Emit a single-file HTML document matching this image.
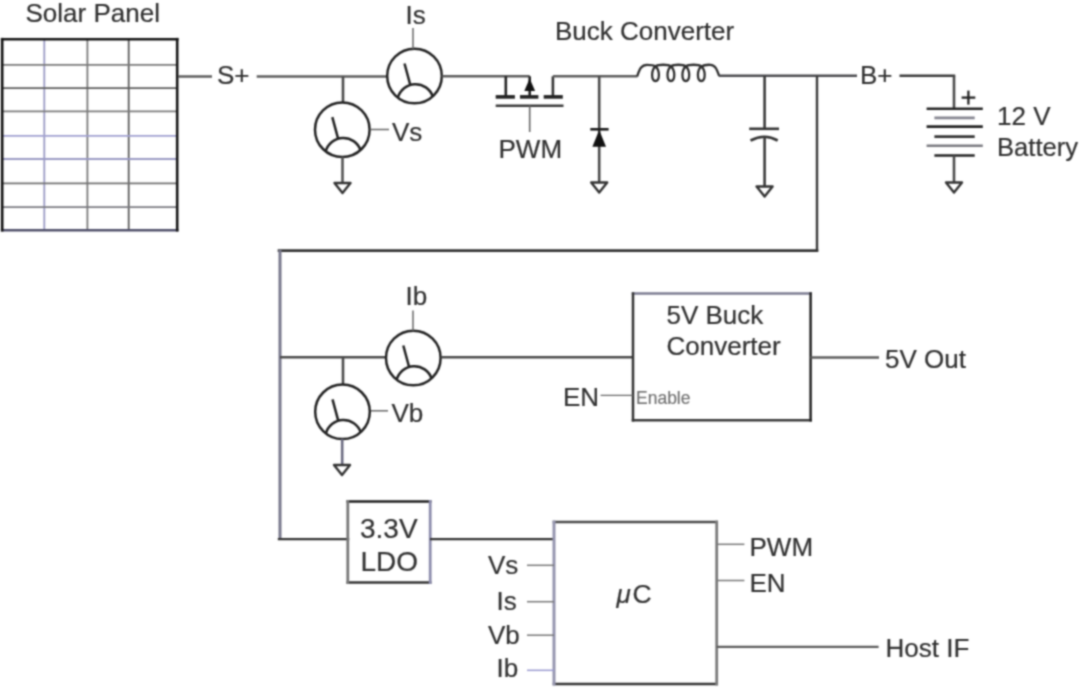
<!DOCTYPE html><html><head><meta charset="utf-8"><title>Solar MPPT charger block diagram</title><style>html,body{margin:0;padding:0;background:#fff;overflow:hidden;}svg{display:block;}text{font-family:"Liberation Sans",sans-serif;}</style></head><body>
<svg width="1080" height="689" viewBox="0 0 1080 689">
<defs><filter id="bl" color-interpolation-filters="sRGB" filterUnits="userSpaceOnUse" x="0" y="0" width="1080" height="689"><feConvolveMatrix order="5" kernelMatrix="0.00048 0.00501 0.01095 0.00501 0.00048 0.00501 0.05222 0.11405 0.05222 0.00501 0.01095 0.11405 0.24912 0.11405 0.01095 0.00501 0.05222 0.11405 0.05222 0.00501 0.00048 0.00501 0.01095 0.00501 0.00048" divisor="1" edgeMode="duplicate"/></filter></defs>
<g filter="url(#bl)"><rect x="0" y="0" width="1080" height="689" fill="#fff"/>
<line x1="44.3" y1="39" x2="44.3" y2="230.3" stroke="#9a9ac4" stroke-width="1.8" stroke-linecap="butt"/>
<line x1="87.4" y1="39" x2="87.4" y2="230.3" stroke="#7a7a7a" stroke-width="1.8" stroke-linecap="butt"/>
<line x1="128.7" y1="39" x2="128.7" y2="230.3" stroke="#5c5c5c" stroke-width="1.8" stroke-linecap="butt"/>
<line x1="2" y1="64.8" x2="177.5" y2="64.8" stroke="#7a7a7a" stroke-width="1.8" stroke-linecap="butt"/>
<line x1="2" y1="88.1" x2="177.5" y2="88.1" stroke="#5c5c5c" stroke-width="1.8" stroke-linecap="butt"/>
<line x1="2" y1="111.4" x2="177.5" y2="111.4" stroke="#7a7a7a" stroke-width="1.8" stroke-linecap="butt"/>
<line x1="2" y1="135.8" x2="177.5" y2="135.8" stroke="#a0a0d0" stroke-width="1.8" stroke-linecap="butt"/>
<line x1="2" y1="159" x2="177.5" y2="159" stroke="#9a9ac4" stroke-width="1.8" stroke-linecap="butt"/>
<line x1="2" y1="183.3" x2="177.5" y2="183.3" stroke="#707070" stroke-width="1.8" stroke-linecap="butt"/>
<line x1="2" y1="207.2" x2="177.5" y2="207.2" stroke="#7a7a80" stroke-width="1.8" stroke-linecap="butt"/>
<line x1="2.2" y1="39.2" x2="177.2" y2="39.2" stroke="#151515" stroke-width="2.6" stroke-linecap="square"/>
<line x1="2.2" y1="230.2" x2="177.2" y2="230.2" stroke="#50506a" stroke-width="2.6" stroke-linecap="square"/>
<line x1="2.2" y1="39.2" x2="2.2" y2="230.2" stroke="#111" stroke-width="2.6" stroke-linecap="square"/>
<line x1="177.2" y1="39.2" x2="177.2" y2="230.2" stroke="#151515" stroke-width="2.6" stroke-linecap="square"/>
<text x="25.5" y="21.7" font-size="26" fill="#303030" stroke="#303030" stroke-width="0.2" >Solar Panel</text>
<text x="555" y="40.1" font-size="26" fill="#303030" stroke="#303030" stroke-width="0.2" >Buck Converter</text>
<line x1="178" y1="76.5" x2="212" y2="76.5" stroke="#5c5c5c" stroke-width="2.6" stroke-linecap="butt"/>
<text x="217" y="84" font-size="26" fill="#303030" stroke="#303030" stroke-width="0.2" >S+</text>
<line x1="256.7" y1="76.5" x2="387" y2="76.5" stroke="#5c5c5c" stroke-width="2.6" stroke-linecap="butt"/>
<line x1="343" y1="76.5" x2="343" y2="102" stroke="#4a4a4a" stroke-width="2.6" stroke-linecap="butt"/>
<circle cx="342.3" cy="129.7" r="27.3" fill="none" stroke="#222" stroke-width="2.5"/>
<path d="M325.60,151.55 A18.3,18.3 0 0 1 360.60,150.23" fill="none" stroke="#222" stroke-width="2.5"/>
<line x1="338.10" y1="138.70" x2="332.30" y2="117.20" stroke="#222" stroke-width="2.5"/>
<line x1="370" y1="129.5" x2="389" y2="129.5" stroke="#666" stroke-width="1.5" stroke-linecap="butt"/>
<text x="392" y="140.8" font-size="26" fill="#303030" stroke="#303030" stroke-width="0.2" >Vs</text>
<line x1="342.5" y1="157" x2="342.5" y2="183" stroke="#555" stroke-width="2.6" stroke-linecap="butt"/>
<path d="M334.5,183 L350.5,183 L342.5,193 Z" fill="none" stroke="#333" stroke-width="2.4" stroke-linejoin="round"/>
<circle cx="414.5" cy="76" r="27.3" fill="none" stroke="#222" stroke-width="2.5"/>
<path d="M397.80,97.85 A18.3,18.3 0 0 1 432.80,96.53" fill="none" stroke="#222" stroke-width="2.5"/>
<line x1="410.30" y1="85.00" x2="404.50" y2="63.50" stroke="#222" stroke-width="2.5"/>
<line x1="413" y1="49" x2="413" y2="28" stroke="#666" stroke-width="1.5" stroke-linecap="butt"/>
<text x="405.5" y="24.3" font-size="26" fill="#303030" stroke="#303030" stroke-width="0.2" >Is</text>
<line x1="442" y1="76.3" x2="529.7" y2="76.3" stroke="#5c5c5c" stroke-width="2.6" stroke-linecap="butt"/>
<line x1="505.8" y1="76.3" x2="505.8" y2="96.7" stroke="#222" stroke-width="2.6" stroke-linecap="butt"/>
<line x1="529.7" y1="76.3" x2="529.7" y2="96.7" stroke="#222" stroke-width="2.6" stroke-linecap="butt"/>
<path d="M529.7,78.5 L524.3,91 L535.1,91 Z" fill="#111"/>
<line x1="552.9" y1="76.3" x2="552.9" y2="96.7" stroke="#333" stroke-width="2.6" stroke-linecap="butt"/>
<line x1="495.7" y1="96.9" x2="514.9" y2="96.9" stroke="#222" stroke-width="3.6" stroke-linecap="butt"/>
<line x1="520" y1="96.9" x2="538.4" y2="96.9" stroke="#222" stroke-width="3.6" stroke-linecap="butt"/>
<line x1="543.7" y1="96.9" x2="562.8" y2="96.9" stroke="#222" stroke-width="3.6" stroke-linecap="butt"/>
<line x1="495.7" y1="105.7" x2="563.5" y2="105.7" stroke="#3a3a3a" stroke-width="2.6" stroke-linecap="butt"/>
<line x1="529.7" y1="105.7" x2="529.7" y2="132" stroke="#666" stroke-width="1.6" stroke-linecap="butt"/>
<text x="498.5" y="158" font-size="26" fill="#303030" stroke="#303030" stroke-width="0.2" >PWM</text>
<line x1="552.9" y1="76.3" x2="637.5" y2="76.3" stroke="#5c5c5c" stroke-width="2.6" stroke-linecap="butt"/>
<line x1="599.2" y1="76.3" x2="599.2" y2="182.5" stroke="#4a4a4a" stroke-width="2.6" stroke-linecap="butt"/>
<line x1="590.3" y1="129.3" x2="608.6" y2="129.3" stroke="#1a1a1a" stroke-width="2.6" stroke-linecap="butt"/>
<path d="M599.2,130 L592.4,146.8 L606,146.8 Z" fill="#111"/>
<path d="M591.2,182.5 L607.2,182.5 L599.2,192.5 Z" fill="none" stroke="#333" stroke-width="2.4" stroke-linejoin="round"/>
<path d="M637.2,76.3 C639.5,69 641.5,64.8 647,64.8 C651,64.8 654,65.3 655.5,66.5 C660.0,70 660.0,81 655.5,81 C651.0,81 651.0,70 655.5,66.5 C658.5,64.2 667.9,64.2 670.9,66.5 C675.4,70 675.4,81 670.9,81 C666.4,81 666.4,70 670.9,66.5 C673.9,64.2 682.8,64.2 685.8,66.5 C690.3,70 690.3,81 685.8,81 C681.3,81 681.3,70 685.8,66.5 C688.8,64.2 698.3,64.2 701.3,66.5 C705.8,70 705.8,81 701.3,81 C696.8,81 696.8,70 701.3,66.5 C704.3,64.5 706,64.6 710.5,64.8 C715.5,65 717,70 719.2,76" fill="none" stroke="#2e2e2e" stroke-width="2.3" stroke-linejoin="round"/>
<line x1="719" y1="75.8" x2="857" y2="75.8" stroke="#4a4a4e" stroke-width="2.4" stroke-linecap="butt"/>
<line x1="764.6" y1="75.8" x2="764.6" y2="128.8" stroke="#3a3a3a" stroke-width="2.6" stroke-linecap="butt"/>
<line x1="749.2" y1="128.8" x2="779" y2="128.8" stroke="#333" stroke-width="2.6" stroke-linecap="butt"/>
<path d="M750.5,140.5 Q764.6,133 777.7,140.5" fill="none" stroke="#333" stroke-width="2.6"/>
<line x1="764.6" y1="137" x2="764.6" y2="186" stroke="#3a3a3a" stroke-width="2.6" stroke-linecap="butt"/>
<path d="M756.6,186.5 L772.6,186.5 L764.6,196.5 Z" fill="none" stroke="#333" stroke-width="2.4" stroke-linejoin="round"/>
<line x1="817" y1="75.8" x2="817" y2="251.5" stroke="#3a3a3a" stroke-width="2.4" stroke-linecap="butt"/>
<text x="860" y="83.7" font-size="26" fill="#303030" stroke="#303030" stroke-width="0.2" >B+</text>
<line x1="900.7" y1="75.7" x2="954" y2="75.7" stroke="#3a3a3a" stroke-width="2.4" stroke-linecap="square"/>
<line x1="954" y1="75.7" x2="954" y2="108.3" stroke="#4a4a4a" stroke-width="2.6" stroke-linecap="butt"/>
<line x1="961.6" y1="97.6" x2="975.3" y2="97.6" stroke="#222" stroke-width="2.3" stroke-linecap="butt"/>
<line x1="968.4" y1="90.6" x2="968.4" y2="104.6" stroke="#222" stroke-width="2.3" stroke-linecap="butt"/>
<line x1="926.6" y1="108.7" x2="982.8" y2="108.7" stroke="#222" stroke-width="2.6" stroke-linecap="butt"/>
<line x1="934.4" y1="117.9" x2="974.7" y2="117.9" stroke="#858590" stroke-width="2.6" stroke-linecap="butt"/>
<line x1="926.6" y1="126.6" x2="982.8" y2="126.6" stroke="#222" stroke-width="2.6" stroke-linecap="butt"/>
<line x1="934.4" y1="136.6" x2="974.7" y2="136.6" stroke="#333" stroke-width="2.6" stroke-linecap="butt"/>
<line x1="926.6" y1="145.8" x2="982.8" y2="145.8" stroke="#7a7a80" stroke-width="2.6" stroke-linecap="butt"/>
<line x1="934.4" y1="155.5" x2="974.7" y2="155.5" stroke="#222" stroke-width="2.6" stroke-linecap="butt"/>
<line x1="954" y1="155.5" x2="954" y2="182" stroke="#4a4a4a" stroke-width="2.6" stroke-linecap="butt"/>
<path d="M946,182.5 L962,182.5 L954,192.5 Z" fill="none" stroke="#333" stroke-width="2.4" stroke-linejoin="round"/>
<text x="997" y="125.1" font-size="26" fill="#303030" stroke="#303030" stroke-width="0.2" >12 V</text>
<text x="997" y="155.5" font-size="25.6" fill="#303030" stroke="#303030" stroke-width="0.2" >Battery</text>
<line x1="817" y1="250.6" x2="279" y2="250.6" stroke="#333" stroke-width="2.6" stroke-linecap="square"/>
<line x1="280" y1="250" x2="280" y2="539" stroke="#78788c" stroke-width="3" stroke-linecap="butt"/>
<line x1="280" y1="357.3" x2="386" y2="357.3" stroke="#4a4a4a" stroke-width="2.6" stroke-linecap="butt"/>
<line x1="343" y1="357.3" x2="343" y2="384.5" stroke="#4a4a4a" stroke-width="2.6" stroke-linecap="butt"/>
<circle cx="342.5" cy="411.8" r="27.3" fill="none" stroke="#222" stroke-width="2.5"/>
<path d="M325.80,433.65 A18.3,18.3 0 0 1 360.80,432.33" fill="none" stroke="#222" stroke-width="2.5"/>
<line x1="338.30" y1="420.80" x2="332.50" y2="399.30" stroke="#222" stroke-width="2.5"/>
<line x1="371" y1="410.8" x2="388" y2="410.8" stroke="#666" stroke-width="1.5" stroke-linecap="butt"/>
<text x="391.5" y="421.7" font-size="26" fill="#303030" stroke="#303030" stroke-width="0.2" >Vb</text>
<line x1="342.2" y1="439" x2="342.2" y2="465" stroke="#6a6a80" stroke-width="2.6" stroke-linecap="butt"/>
<path d="M334,465 L350,465 L342,475 Z" fill="none" stroke="#333" stroke-width="2.4" stroke-linejoin="round"/>
<circle cx="413.3" cy="358" r="27.3" fill="none" stroke="#222" stroke-width="2.5"/>
<path d="M396.60,379.85 A18.3,18.3 0 0 1 431.60,378.53" fill="none" stroke="#222" stroke-width="2.5"/>
<line x1="409.10" y1="367.00" x2="403.30" y2="345.50" stroke="#222" stroke-width="2.5"/>
<line x1="413" y1="331" x2="413" y2="310.4" stroke="#666" stroke-width="1.5" stroke-linecap="butt"/>
<text x="405.5" y="305.2" font-size="26" fill="#303030" stroke="#303030" stroke-width="0.2" >Ib</text>
<line x1="441" y1="357.3" x2="633" y2="357.3" stroke="#4a4a4a" stroke-width="2.6" stroke-linecap="butt"/>
<line x1="633" y1="293.5" x2="810.6" y2="293.5" stroke="#7c7c92" stroke-width="2.5" stroke-linecap="square"/>
<line x1="633" y1="420.3" x2="810.6" y2="420.3" stroke="#3a3a3a" stroke-width="2.5" stroke-linecap="square"/>
<line x1="633" y1="293.5" x2="633" y2="420.3" stroke="#333" stroke-width="2.5" stroke-linecap="square"/>
<line x1="810.6" y1="293.5" x2="810.6" y2="420.3" stroke="#222" stroke-width="2.5" stroke-linecap="square"/>
<text x="666.5" y="323.9" font-size="26" fill="#303030" stroke="#303030" stroke-width="0.2" >5V Buck</text>
<text x="666.5" y="355" font-size="26" fill="#303030" stroke="#303030" stroke-width="0.2" >Converter</text>
<line x1="600.6" y1="395.4" x2="633" y2="395.4" stroke="#666" stroke-width="1.3" stroke-linecap="butt"/>
<text x="563" y="406.2" font-size="26" fill="#303030" stroke="#303030" stroke-width="0.2" >EN</text>
<text x="636" y="404.2" font-size="17.5" fill="#707070" stroke="#707070" stroke-width="0.15" >Enable</text>
<line x1="810.5" y1="357.5" x2="879" y2="357.5" stroke="#5c5c5c" stroke-width="2.4" stroke-linecap="butt"/>
<text x="885" y="367.5" font-size="26" fill="#303030" stroke="#303030" stroke-width="0.2" >5V Out</text>
<line x1="279" y1="539.1" x2="348" y2="539.1" stroke="#333" stroke-width="2.4" stroke-linecap="square"/>
<line x1="347.8" y1="501.4" x2="430.2" y2="501.4" stroke="#1e1e1e" stroke-width="2.5" stroke-linecap="square"/>
<line x1="347.8" y1="582.6" x2="430.2" y2="582.6" stroke="#333" stroke-width="2.5" stroke-linecap="square"/>
<line x1="347.8" y1="501.4" x2="347.8" y2="582.6" stroke="#777" stroke-width="2.8" stroke-linecap="square"/>
<line x1="430.2" y1="501.4" x2="430.2" y2="582.6" stroke="#8c8cac" stroke-width="2.8" stroke-linecap="square"/>
<text x="360" y="537.8" font-size="28" fill="#303030" stroke="#303030" stroke-width="0.2" >3.3V</text>
<text x="360.5" y="571.1" font-size="28" fill="#303030" stroke="#303030" stroke-width="0.2" >LDO</text>
<line x1="430" y1="539.1" x2="554" y2="539.1" stroke="#333" stroke-width="2.4" stroke-linecap="butt"/>
<line x1="554" y1="522" x2="716.7" y2="522" stroke="#4a4a4a" stroke-width="2.5" stroke-linecap="square"/>
<line x1="554" y1="684" x2="716.7" y2="684" stroke="#333" stroke-width="2.5" stroke-linecap="square"/>
<line x1="554" y1="522" x2="554" y2="684" stroke="#9494ae" stroke-width="3" stroke-linecap="square"/>
<line x1="716.7" y1="522" x2="716.7" y2="684" stroke="#7a7a7a" stroke-width="2.8" stroke-linecap="square"/>
<line x1="527" y1="565.3" x2="554" y2="565.3" stroke="#777" stroke-width="1.5" stroke-linecap="butt"/>
<line x1="527" y1="601.7" x2="554" y2="601.7" stroke="#777" stroke-width="1.5" stroke-linecap="butt"/>
<line x1="527" y1="635.2" x2="554" y2="635.2" stroke="#777" stroke-width="1.5" stroke-linecap="butt"/>
<line x1="527" y1="670.3" x2="554" y2="670.3" stroke="#9a9ad0" stroke-width="1.5" stroke-linecap="butt"/>
<text x="488" y="574" font-size="26" fill="#303030" stroke="#303030" stroke-width="0.2" >Vs</text>
<text x="496.5" y="610.2" font-size="26" fill="#303030" stroke="#303030" stroke-width="0.2" >Is</text>
<text x="488" y="643.6" font-size="26" fill="#303030" stroke="#303030" stroke-width="0.2" >Vb</text>
<text x="496.5" y="677.3" font-size="26" fill="#303030" stroke="#303030" stroke-width="0.2" >Ib</text>
<line x1="716.7" y1="544.3" x2="744.4" y2="544.3" stroke="#777" stroke-width="1.5" stroke-linecap="butt"/>
<line x1="716.7" y1="580.5" x2="744.4" y2="580.5" stroke="#777" stroke-width="1.5" stroke-linecap="butt"/>
<text x="749.5" y="556.1" font-size="26" fill="#303030" stroke="#303030" stroke-width="0.2" >PWM</text>
<text x="749.5" y="592.3" font-size="26" fill="#303030" stroke="#303030" stroke-width="0.2" >EN</text>
<line x1="716.7" y1="646.9" x2="878.6" y2="646.9" stroke="#5a5a5a" stroke-width="2.4" stroke-linecap="butt"/>
<text x="885.5" y="656.9" font-size="26" fill="#303030" stroke="#303030" stroke-width="0.2" >Host IF</text>
<text x="616.5" y="602.5" font-size="26" fill="#303030" stroke="#303030" stroke-width="0.2" font-style="italic">&#956;</text>
<text x="632.5" y="602.5" font-size="26.5" fill="#303030" stroke="#303030" stroke-width="0.2" >C</text>
</g></svg></body></html>
